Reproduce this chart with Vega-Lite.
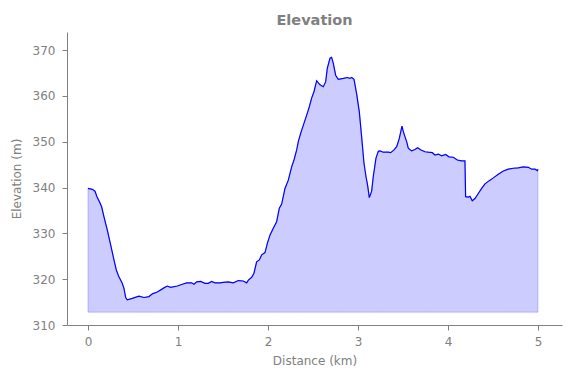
{
  "$schema": "https://vega.github.io/schema/vega-lite/v6.json",
  "width": 495,
  "height": 293,
  "autosize": "none",
  "padding": {"left": 67, "top": 32, "right": 9, "bottom": 53},
  "background": "white",
  "title": {"text": "Elevation", "font": "DejaVu Sans", "fontSize": 14.5, "fontWeight": "bold", "color": "#808080", "offset": 4},
  "config": {
    "view": {"stroke": null},
    "axis": {"grid": false, "domainColor": "#808080", "tickColor": "#808080", "labelColor": "#808080", "titleColor": "#808080", "labelFont": "DejaVu Sans", "titleFont": "DejaVu Sans", "labelFontSize": 12, "titleFontSize": 12, "titleFontWeight": "normal", "tickSize": 5}
  },
  "data": {"values": [
    {"d": 0.0, "e": 339.8}, {"d": 0.048, "e": 339.6}, {"d": 0.078, "e": 339.2}, {"d": 0.10, "e": 338.0},
    {"d": 0.13, "e": 336.8}, {"d": 0.152, "e": 335.8}, {"d": 0.178, "e": 333.6}, {"d": 0.215, "e": 330.7},
    {"d": 0.252, "e": 327.5}, {"d": 0.289, "e": 324.2}, {"d": 0.315, "e": 322.0}, {"d": 0.344, "e": 320.5},
    {"d": 0.381, "e": 319.1}, {"d": 0.40, "e": 318.0}, {"d": 0.419, "e": 316.0}, {"d": 0.437, "e": 315.5},
    {"d": 0.492, "e": 315.8}, {"d": 0.567, "e": 316.3}, {"d": 0.622, "e": 316.0}, {"d": 0.678, "e": 316.2},
    {"d": 0.715, "e": 316.8}, {"d": 0.77, "e": 317.2}, {"d": 0.844, "e": 318.1}, {"d": 0.88, "e": 318.5},
    {"d": 0.918, "e": 318.2}, {"d": 0.993, "e": 318.5}, {"d": 1.048, "e": 318.9}, {"d": 1.097, "e": 319.2},
    {"d": 1.152, "e": 319.2}, {"d": 1.178, "e": 318.9}, {"d": 1.207, "e": 319.4}, {"d": 1.252, "e": 319.5},
    {"d": 1.30, "e": 319.1}, {"d": 1.337, "e": 319.1}, {"d": 1.374, "e": 319.5}, {"d": 1.411, "e": 319.2},
    {"d": 1.467, "e": 319.2}, {"d": 1.504, "e": 319.3}, {"d": 1.559, "e": 319.4}, {"d": 1.615, "e": 319.2},
    {"d": 1.67, "e": 319.7}, {"d": 1.726, "e": 319.6}, {"d": 1.763, "e": 319.2}, {"d": 1.782, "e": 319.8},
    {"d": 1.819, "e": 320.4}, {"d": 1.844, "e": 321.3}, {"d": 1.874, "e": 323.8}, {"d": 1.904, "e": 324.2},
    {"d": 1.93, "e": 325.3}, {"d": 1.967, "e": 325.8}, {"d": 1.993, "e": 327.8}, {"d": 2.022, "e": 329.6},
    {"d": 2.059, "e": 331.1}, {"d": 2.096, "e": 332.5}, {"d": 2.126, "e": 335.5}, {"d": 2.152, "e": 336.4},
    {"d": 2.189, "e": 339.8}, {"d": 2.226, "e": 341.6}, {"d": 2.263, "e": 344.5}, {"d": 2.289, "e": 346.0},
    {"d": 2.319, "e": 348.2}, {"d": 2.337, "e": 350.0}, {"d": 2.363, "e": 351.8}, {"d": 2.393, "e": 353.6},
    {"d": 2.43, "e": 355.8}, {"d": 2.459, "e": 357.6}, {"d": 2.485, "e": 359.5}, {"d": 2.511, "e": 360.9},
    {"d": 2.541, "e": 363.3}, {"d": 2.578, "e": 362.4}, {"d": 2.615, "e": 362.0}, {"d": 2.641, "e": 363.1},
    {"d": 2.659, "e": 366.0}, {"d": 2.689, "e": 368.2}, {"d": 2.707, "e": 368.4}, {"d": 2.726, "e": 367.1},
    {"d": 2.752, "e": 364.5}, {"d": 2.781, "e": 363.6}, {"d": 2.837, "e": 363.8}, {"d": 2.881, "e": 364.0},
    {"d": 2.911, "e": 363.8}, {"d": 2.93, "e": 364.0}, {"d": 2.956, "e": 363.6}, {"d": 2.985, "e": 360.5},
    {"d": 3.015, "e": 356.5}, {"d": 3.041, "e": 351.0}, {"d": 3.067, "e": 345.3}, {"d": 3.089, "e": 342.4},
    {"d": 3.107, "e": 340.5}, {"d": 3.126, "e": 337.8}, {"d": 3.152, "e": 339.2}, {"d": 3.17, "e": 342.4},
    {"d": 3.2, "e": 346.4}, {"d": 3.226, "e": 347.9}, {"d": 3.244, "e": 348.0}, {"d": 3.281, "e": 347.7},
    {"d": 3.337, "e": 347.7}, {"d": 3.363, "e": 347.6}, {"d": 3.4, "e": 348.2}, {"d": 3.43, "e": 348.9},
    {"d": 3.459, "e": 350.7}, {"d": 3.489, "e": 353.4}, {"d": 3.504, "e": 352.2}, {"d": 3.522, "e": 351.1},
    {"d": 3.541, "e": 350.0}, {"d": 3.559, "e": 348.6}, {"d": 3.596, "e": 348.0}, {"d": 3.633, "e": 348.3},
    {"d": 3.663, "e": 348.7}, {"d": 3.7, "e": 348.2}, {"d": 3.744, "e": 347.8}, {"d": 3.781, "e": 347.7},
    {"d": 3.826, "e": 347.6}, {"d": 3.856, "e": 347.1}, {"d": 3.893, "e": 347.3}, {"d": 3.93, "e": 346.9},
    {"d": 3.974, "e": 347.2}, {"d": 4.011, "e": 346.7}, {"d": 4.059, "e": 346.6}, {"d": 4.104, "e": 346.0},
    {"d": 4.152, "e": 345.8}, {"d": 4.189, "e": 345.8}, {"d": 4.196, "e": 338.0}, {"d": 4.226, "e": 337.9},
    {"d": 4.244, "e": 338.1}, {"d": 4.27, "e": 337.1}, {"d": 4.3, "e": 337.6}, {"d": 4.337, "e": 338.7},
    {"d": 4.374, "e": 339.8}, {"d": 4.411, "e": 340.8}, {"d": 4.459, "e": 341.5}, {"d": 4.504, "e": 342.1},
    {"d": 4.559, "e": 342.9}, {"d": 4.615, "e": 343.6}, {"d": 4.67, "e": 344.0}, {"d": 4.726, "e": 344.2},
    {"d": 4.781, "e": 344.3}, {"d": 4.837, "e": 344.5}, {"d": 4.893, "e": 344.4}, {"d": 4.93, "e": 344.0},
    {"d": 4.967, "e": 344.0}, {"d": 4.993, "e": 343.7}, {"d": 5.0, "e": 344.0}
  ]},
  "encoding": {
    "x": {"field": "d", "type": "quantitative", "title": "Distance (km)",
      "scale": {"domain": [-0.233, 5.267], "nice": false, "zero": false},
      "axis": {"values": [0, 1, 2, 3, 4, 5], "format": "d", "labelPadding": 6, "titlePadding": 8}},
    "y": {"field": "e", "type": "quantitative", "title": "Elevation (m)",
      "scale": {"domain": [310, 373.93], "nice": false, "zero": false},
      "axis": {"values": [310, 320, 330, 340, 350, 360, 370], "labelPadding": 7, "titlePadding": 9}}
  },
  "layer": [
    {"mark": {"type": "area", "fill": "blue", "fillOpacity": 0.2, "stroke": "blue", "strokeOpacity": 0.2, "strokeWidth": 1},
     "encoding": {"y2": {"datum": 312.8}}},
    {"mark": {"type": "line", "color": "blue", "strokeWidth": 1.2}}
  ]
}
